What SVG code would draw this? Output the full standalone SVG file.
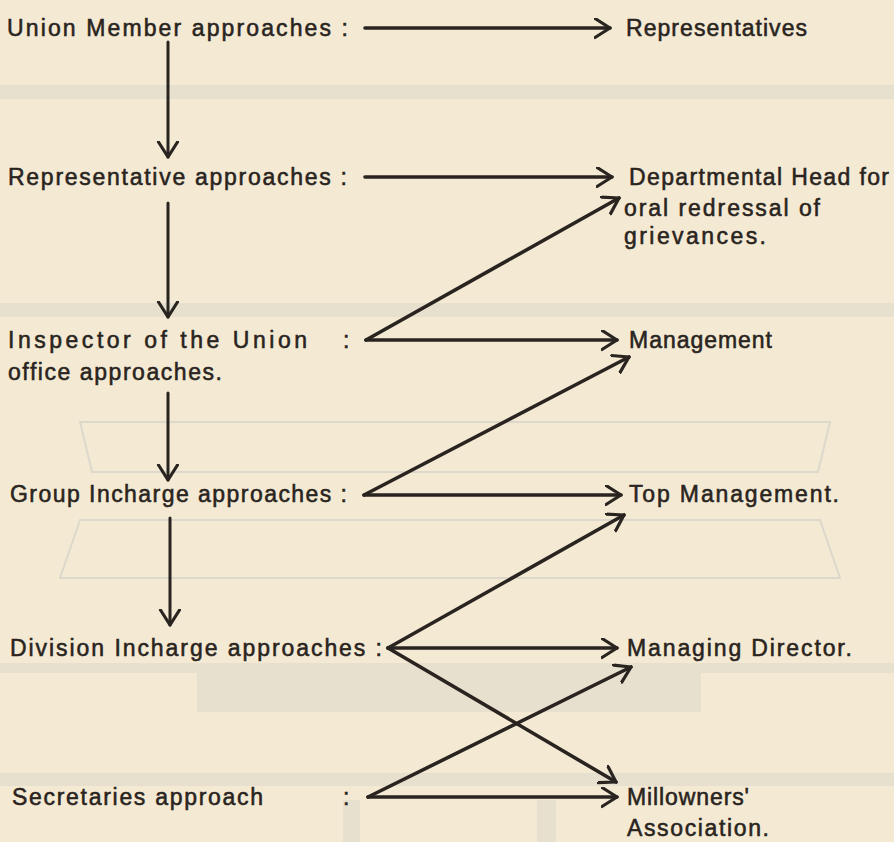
<svg xmlns="http://www.w3.org/2000/svg" width="894" height="842" viewBox="0 0 894 842">
<style>
.t{font-family:"Liberation Sans",Arial,sans-serif;font-size:23px;fill:#2a2420;stroke:#2a2420;stroke-width:0.55;}
.c{stroke:#2a2420;stroke-width:3.6;fill:none;stroke-linecap:round;}
.v{stroke:#2a2420;stroke-width:3;fill:none;stroke-linecap:round;}
.bg{fill:#ddd8cc;opacity:0.6;}
.bl{stroke:#ddd8cc;stroke-width:2;fill:none;}
</style>
<defs>
<marker id="ah" markerUnits="userSpaceOnUse" markerWidth="24" markerHeight="24" refX="16" refY="10.5" orient="auto" viewBox="0 0 24 24">
<path d="M1,1 L16,10.5 L1,20" fill="none" stroke="#2a2420" stroke-width="3.2" stroke-linecap="round" stroke-linejoin="round"/>
</marker>
</defs>
<rect width="894" height="842" fill="#f4ead4"/>
<g id="background">
<rect class="bg" x="0" y="85" width="894" height="14"/>
<rect class="bg" x="0" y="303" width="894" height="14"/>
<polygon class="bl" points="80,422 830,422 818,472 92,472"/>
<polygon class="bl" points="60,578 840,578 820,520 80,520"/>
<rect class="bg" x="0" y="663" width="894" height="10"/>
<rect class="bg" x="197" y="673" width="504" height="39"/>
<rect class="bg" x="0" y="773" width="894" height="13"/>
<rect class="bg" x="343" y="800" width="17" height="42"/>
<rect class="bg" x="537" y="800" width="19" height="42"/>
</g>
<g id="connectors">
<line class="c" x1="365" y1="28" x2="610" y2="28" marker-end="url(#ah)"/>
<line class="v" x1="168" y1="42" x2="168" y2="157" marker-end="url(#ah)"/>
<line class="c" x1="365" y1="177" x2="612" y2="177" marker-end="url(#ah)"/>
<line class="v" x1="168" y1="203" x2="168" y2="317" marker-end="url(#ah)"/>
<line class="c" x1="366" y1="340" x2="619" y2="198" marker-end="url(#ah)"/>
<line class="c" x1="366" y1="340" x2="617" y2="340" marker-end="url(#ah)"/>
<line class="v" x1="168" y1="393" x2="168" y2="480" marker-end="url(#ah)"/>
<line class="c" x1="364" y1="495" x2="629" y2="357" marker-end="url(#ah)"/>
<line class="c" x1="364" y1="495" x2="621" y2="495" marker-end="url(#ah)"/>
<line class="v" x1="170" y1="518" x2="170" y2="625" marker-end="url(#ah)"/>
<line class="c" x1="388" y1="648" x2="624" y2="515" marker-end="url(#ah)"/>
<line class="c" x1="388" y1="648" x2="617" y2="648" marker-end="url(#ah)"/>
<line class="c" x1="388" y1="648" x2="616" y2="782" marker-end="url(#ah)"/>
<line class="c" x1="368" y1="797" x2="631" y2="667" marker-end="url(#ah)"/>
<line class="c" x1="368" y1="797" x2="617" y2="797" marker-end="url(#ah)"/>
</g>
<g id="union-member"><text class="t" x="7" y="36" textLength="341" lengthAdjust="spacing">Union Member approaches :</text></g>
<g id="representatives"><text class="t" x="626" y="36" textLength="181" lengthAdjust="spacing">Representatives</text></g>
<g id="representative"><text class="t" x="8" y="185" textLength="339" lengthAdjust="spacing">Representative  approaches :</text></g>
<g id="departmental-head">
<text class="t" x="629" y="185" textLength="260" lengthAdjust="spacing">Departmental Head for</text>
<text class="t" x="624" y="216" textLength="196" lengthAdjust="spacing">oral redressal of</text>
<text class="t" x="624" y="244" textLength="142" lengthAdjust="spacing">grievances.</text>
</g>
<g id="inspector">
<text class="t" x="8" y="348" textLength="299" lengthAdjust="spacing">Inspector of the Union</text>
<text class="t" x="343" y="348">:</text>
<text class="t" x="8" y="380" textLength="214" lengthAdjust="spacing">office approaches.</text>
</g>
<g id="management"><text class="t" x="629" y="348" textLength="143" lengthAdjust="spacing">Management</text></g>
<g id="group-incharge"><text class="t" x="10" y="502" textLength="337" lengthAdjust="spacing">Group Incharge approaches :</text></g>
<g id="top-management"><text class="t" x="629" y="502" textLength="210" lengthAdjust="spacing">Top Management.</text></g>
<g id="division-incharge"><text class="t" x="10" y="656" textLength="372" lengthAdjust="spacing">Division Incharge approaches :</text></g>
<g id="managing-director"><text class="t" x="627" y="656" textLength="225" lengthAdjust="spacing">Managing Director.</text></g>
<g id="secretaries">
<text class="t" x="12" y="805" textLength="251" lengthAdjust="spacing">Secretaries approach</text>
<text class="t" x="343" y="805">:</text>
</g>
<g id="millowners">
<text class="t" x="627" y="805" textLength="122" lengthAdjust="spacing">Millowners'</text>
<text class="t" x="627" y="836" textLength="142" lengthAdjust="spacing">Association.</text>
</g>
</svg>
